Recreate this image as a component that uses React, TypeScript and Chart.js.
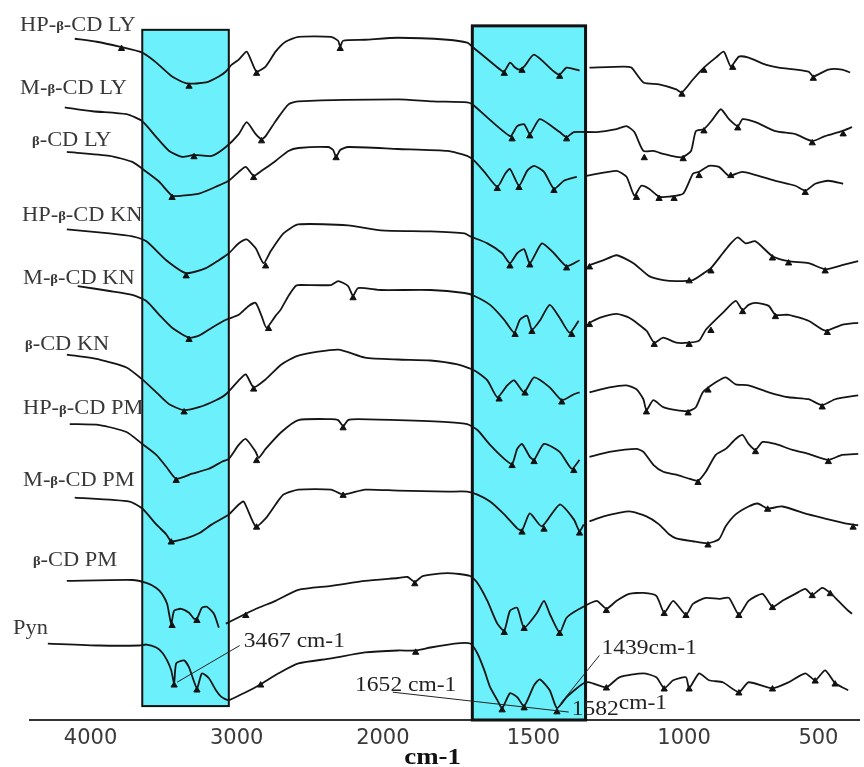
import React, { useEffect, useRef } from 'react';
import { Chart, registerables } from 'chart.js';

Chart.register(...registerables);

// ---- axis (wavenumber, cm-1) : the scan compresses the high-wavenumber part ----
const TICK_WN = [4000, 3000, 2000, 1500, 1000, 500];
const AXIS_WN = [4414, 2000, 1000, 349];
const AXIS_UNIT = [0, 355, 658, 834];

// ---- spectra: [wavenumber, transmittance level (arbitrary, stacked)] ----
const HP_B_CD_LY = [[4108,686],[3958,683],[3802,678],[3646,672],[3550,662],[3442,648],[3340,641],[3210,642],[3122,648],[3074,653],[3034,660],[2986,665],[2932,673],[2898,663],[2864,653],[2802,658],[2734,673],[2666,683],[2578,688],[2354,688],[2306,684],[2292,678],[2272,684],[2122,685],[1950,687],[1785,685],[1720,682],[1703,678],[1611,655],[1597,653],[1578,662],[1561,657],[1548,655],[1531,658],[1498,670],[1432,653],[1413,650],[1390,657],[1347,654],[1330,null],[1314,657],[1201,658],[1175,657],[1135,642],[1083,640],[1026,635],[1007,632],[967,645],[930,656],[882,667],[852,673],[826,658],[796,668],[760,667],[697,660],[648,657],[537,653],[519,648],[463,655],[412,655],[382,652]];
const M_B_CD_LY = [[4176,617],[3986,613],[3754,610],[3646,603],[3550,587],[3462,573],[3374,567],[3292,569],[3170,568],[3074,577],[2986,590],[2932,602],[2870,590],[2830,585],[2802,588],[2734,603],[2646,620],[2578,623],[1950,625],[1835,623],[1720,622],[1703,620],[1578,588],[1554,598],[1531,600],[1512,590],[1479,605],[1413,592],[1390,587],[1366,592],[1290,592],[1224,595],[1191,598],[1165,592],[1135,573],[1102,573],[1069,570],[1026,567],[1003,567],[974,573],[956,593],[926,595],[893,605],[863,615],[833,605],[800,598],[782,605],[734,602],[660,593],[586,590],[523,583],[475,588],[412,593],[375,597]];
const B_CD_LY = [[4162,572],[3870,568],[3714,562],[3618,552],[3530,542],[3442,528],[3374,528],[3258,530],[3142,537],[3054,543],[2986,552],[2938,557],[2884,548],[2830,553],[2734,563],[2646,573],[2578,576],[2374,577],[2340,574],[2320,567],[2292,574],[2238,577],[1950,575],[1785,573],[1720,568],[1696,563],[1663,552],[1620,537],[1594,550],[1578,555],[1548,538],[1521,553],[1498,558],[1465,552],[1432,535],[1399,543],[1356,547],[1340,null],[1324,548],[1224,553],[1191,547],[1165,528],[1142,538],[1116,535],[1083,527],[1050,527],[1003,530],[967,550],[944,552],[907,558],[870,557],[833,548],[782,552],[660,543],[586,538],[549,533],[512,540],[463,543],[408,540]];
const HP_B_CD_KN = [[4162,494],[3870,490],[3714,487],[3618,482],[3482,463],[3346,450],[3210,455],[3122,463],[3054,470],[2986,480],[2932,484],[2870,475],[2816,460],[2768,472],[2680,490],[2578,499],[2238,498],[2014,493],[1842,492],[1729,490],[1710,487],[1653,480],[1604,470],[1578,460],[1554,470],[1531,474],[1512,460],[1472,480],[1432,470],[1390,457],[1347,463],[1330,null],[1314,458],[1267,463],[1224,468],[1168,460],[1116,447],[1069,443],[1026,442],[967,443],[926,450],[900,455],[856,470],[826,480],[800,486],[771,480],[734,482],[671,467],[611,462],[537,460],[475,454],[412,458],[352,462]];
const M_B_CD_KN = [[4088,437],[3870,432],[3714,428],[3618,422],[3530,408],[3442,395],[3326,385],[3258,387],[3170,395],[3074,403],[2986,408],[2918,417],[2870,420],[2830,407],[2796,395],[2734,407],[2700,413],[2646,427],[2598,437],[2578,438],[2354,438],[2306,442],[2238,437],[2204,427],[2170,435],[2014,433],[1842,433],[1729,430],[1696,427],[1644,418],[1597,403],[1564,390],[1545,403],[1521,407],[1505,393],[1479,402],[1446,418],[1413,405],[1380,390],[1350,402],[1330,null],[1314,400],[1281,405],[1224,409],[1182,405],[1125,392],[1099,380],[1069,385],[1026,380],[981,380],[944,382],[919,393],[856,410],[808,422],[782,413],[760,418],[734,420],[685,417],[660,408],[611,408],[537,402],[475,392],[412,398],[352,400]];
const B_CD_KN = [[4162,368],[3938,363],[3754,355],[3646,343],[3550,330],[3462,318],[3360,312],[3258,315],[3142,322],[3074,328],[2986,342],[2938,348],[2884,335],[2802,343],[2694,358],[2578,367],[2306,373],[2122,365],[1950,363],[1842,362],[1752,358],[1696,352],[1653,342],[1620,325],[1587,337],[1564,342],[1531,330],[1498,345],[1446,335],[1406,322],[1366,328],[1347,330],[1330,null],[1314,330],[1248,335],[1191,337],[1158,333],[1135,323],[1125,312],[1102,322],[1069,315],[1026,312],[985,311],[956,315],[930,330],[882,340],[845,345],[808,338],[760,337],[685,330],[611,325],[537,323],[486,317],[438,323],[352,327]];
const HP_B_CD_PM = [[4142,298],[3938,297],[3754,290],[3646,278],[3550,267],[3482,255],[3414,243],[3306,248],[3190,253],[3102,260],[3054,263],[2986,277],[2938,283],[2870,270],[2850,264],[2802,273],[2694,290],[2578,302],[2354,303],[2306,302],[2272,296],[2238,302],[2170,303],[1950,302],[1785,300],[1720,298],[1686,292],[1644,277],[1597,263],[1571,258],[1554,273],[1538,278],[1512,265],[1498,262],[1465,278],[1413,270],[1373,253],[1347,262],[1330,null],[1314,265],[1248,270],[1158,273],[1135,270],[1102,257],[1069,250],[1026,247],[981,243],[948,241],[919,250],[882,267],[845,273],[808,283],[782,287],[760,278],[734,272],[708,280],[660,278],[597,272],[537,268],[463,262],[412,267],[352,268]];
const M_B_CD_PM = [[4108,224],[3734,220],[3646,213],[3550,197],[3482,187],[3448,180],[3346,183],[3258,188],[3170,197],[3054,207],[2986,217],[2952,220],[2870,195],[2802,203],[2734,217],[2680,227],[2578,232],[2354,232],[2272,227],[2122,232],[1950,231],[1785,230],[1720,230],[1686,227],[1644,220],[1597,207],[1554,193],[1538,191],[1512,208],[1472,195],[1413,217],[1366,202],[1347,190],[1333,197],[1325,null],[1314,200],[1267,205],[1182,210],[1125,205],[1083,197],[1050,187],[1026,183],[967,180],[911,178],[870,182],[845,195],[808,207],[760,215],[726,218],[689,213],[634,215],[537,207],[463,202],[401,198],[352,196]];
const B_CD_PM = [[4162,140],[3714,141],[3618,138],[3550,133],[3510,127],[3476,117],[3448,97],[3428,110],[3380,112],[3326,108],[3292,102],[3272,102],[3238,113],[3204,114],[3156,107],[3122,93],[3100,null],[3074,97],[3034,100],[2938,107],[2850,113],[2734,120],[2578,131],[2354,135],[2122,140],[1950,143],[1918,144],[1894,139],[1868,145],[1785,148],[1710,145],[1686,138],[1653,120],[1620,97],[1597,90],[1578,110],[1554,113],[1531,93],[1488,108],[1465,120],[1446,107],[1413,88],[1390,103],[1347,112],[1290,120],[1258,112],[1224,120],[1182,127],[1135,128],[1092,125],[1066,108],[1036,120],[993,106],[967,117],[919,123],[870,122],[833,123],[796,106],[760,120],[708,127],[671,114],[634,120],[586,127],[549,132],[523,126],[486,133],[456,128],[426,120],[389,110],[375,107]];
const PYN = [[4292,77],[3938,75],[3666,75],[3618,76],[3550,73],[3510,68],[3476,60],[3448,50],[3428,37],[3414,57],[3360,60],[3326,53],[3272,32],[3238,47],[3190,42],[3142,30],[3102,23],[3054,20],[2952,27],[2884,32],[2836,36],[2714,47],[2578,57],[2354,62],[2122,68],[1950,70],[1891,70],[1842,73],[1762,77],[1710,77],[1686,67],[1663,50],[1644,33],[1620,20],[1604,12],[1578,27],[1554,23],[1531,14],[1498,35],[1479,41],[1446,30],[1422,12],[1390,23],[1356,32],[1333,37],[1314,38],[1258,33],[1215,43],[1135,47],[1092,43],[1066,32],[1036,40],[993,43],[981,32],[944,47],[907,40],[856,38],[796,28],[760,38],[671,32],[611,38],[549,47],[512,40],[475,50],[438,37],[412,33],[389,30]];

// ---- peak-pick markers ----
const PEAKS_HP_B_CD_LY = [[3788,676],[3326,638],[2864,651],[2292,676],[1597,651],[1538,654],[1413,648],[1007,630],[926,654],[819,657],[519,646]];
const PEAKS_M_B_CD_LY = [[3292,567],[2830,583],[1571,585],[1512,588],[1390,585],[1132,566],[1003,565],[926,593],[800,596],[523,581],[408,590]];
const PEAKS_B_CD_LY = [[3442,526],[2884,546],[2320,566],[1620,535],[1548,536],[1432,533],[1158,526],[1083,525],[1033,525],[944,548],[826,548],[549,531]];
const PEAKS_HP_B_CD_KN = [[3346,447],[2802,457],[1578,457],[1512,458],[1390,455],[1314,456],[981,442],[900,452],[671,465],[611,460],[475,452]];
const PEAKS_M_B_CD_KN = [[3326,383],[2782,394],[2204,425],[1561,388],[1505,391],[1373,388],[1314,398],[1099,378],[981,378],[900,392],[782,411],[660,406],[467,390]];
const PEAKS_B_CD_KN = [[3360,310],[2884,333],[1614,323],[1528,329],[1406,320],[1125,310],[985,309],[911,332],[486,315]];
const PEAKS_HP_B_CD_PM = [[3414,241],[2864,261],[2272,294],[1571,256],[1498,260],[1366,251],[948,239],[734,270],[463,260]];
const PEAKS_M_B_CD_PM = [[3448,179],[2864,194],[2272,226],[1538,189],[1465,192],[1347,188],[911,176],[689,212],[371,194]];
const PEAKS_B_CD_PM = [[3442,95],[3272,100],[2938,105],[1894,137],[1597,88],[1531,92],[1413,87],[1258,110],[1066,107],[993,105],[796,105],[671,113],[523,125],[456,127]];
const PEAKS_PYN = [[3428,35],[3272,30],[2836,35],[1891,68],[1604,10],[1531,12],[1422,8],[1258,32],[1066,31],[981,31],[796,27],[671,31],[512,39],[438,36]];

const SPECTRA = [HP_B_CD_LY, M_B_CD_LY, B_CD_LY, HP_B_CD_KN, M_B_CD_KN, B_CD_KN, HP_B_CD_PM, M_B_CD_PM, B_CD_PM, PYN];
const PEAKS = [PEAKS_HP_B_CD_LY, PEAKS_M_B_CD_LY, PEAKS_B_CD_LY, PEAKS_HP_B_CD_KN, PEAKS_M_B_CD_KN, PEAKS_B_CD_KN, PEAKS_HP_B_CD_PM, PEAKS_M_B_CD_PM, PEAKS_B_CD_PM, PEAKS_PYN];

// ---- spectrum names, anchored at (wavenumber, level) ----
const SPECTRUM_NAMES = ['HP-β-CD LY', 'M-β-CD LY', 'β-CD LY', 'HP-β-CD KN', 'M-β-CD KN', 'β-CD KN', 'HP-β-CD PM', 'M-β-CD PM', 'β-CD PM', 'Pyn'];
const NAME_WN = [4482, 4482, 4400, 4468, 4462, 4448, 4462, 4462, 4394, 4530];
const NAME_LEVEL = [699, 636, 583, 508, 444, 378, 313, 241, 160, 92];

// ---- highlighted bands ----
const BAND_FROM_WN = [3646, 1703];
const BAND_TO_WN = [3054, 1327];
const BAND_TOP = [695, 699];
const BAND_BOTTOM = [14, 0];

// ---- annotations ----
const NOTE_TEXT = ['3467 cm-1', '1652 cm-1', '1439cm-1'];
const NOTE_WN = [2952, 2190, 1274];
const NOTE_LEVEL = [79, 35, 72];
const NOTE_LINE_FROM = [[2979, 75], [1967, 28], [1281, 65]];
const NOTE_LINE_TO = [[3408, 38], [1383, 8], [1409, 17]];
const NOTE_1582 = ['1582', 'cm-1'];
const NOTE_1582_AT = [1373, 13];
const AXIS_TITLE = 'cm-1';
const AXIS_TITLE_WN = 1835;

function axisUnit(w: number): number {
  const n = AXIS_WN.length;
  for (let i = 0; i < n - 1; i++) {
    const a = AXIS_WN[i];
    const b = AXIS_WN[i + 1];
    if (w >= b || i === n - 2) {
      return AXIS_UNIT[i] + ((a - w) / (a - b)) * (AXIS_UNIT[i + 1] - AXIS_UNIT[i]);
    }
  }
  return 0;
}

const STRETCH = 1.12;

function drawParts(ctx: CanvasRenderingContext2D, x: number, y: number, parts: { t: string; f: string; dy?: number }[]) {
  ctx.save();
  ctx.translate(x, y);
  ctx.scale(STRETCH, 1);
  let cx = 0;
  for (const p of parts) {
    ctx.font = p.f;
    ctx.fillText(p.t, cx, p.dy || 0);
    cx += ctx.measureText(p.t).width;
  }
  ctx.restore();
}

const decor = {
  id: 'decor',
  beforeDraw(chart: any) {
    const ctx = chart.ctx;
    ctx.save();
    ctx.fillStyle = '#ffffff';
    ctx.fillRect(0, 0, chart.width, chart.height);
    ctx.restore();
  },
  beforeDatasetsDraw(chart: any) {
    const ctx = chart.ctx;
    const xs = chart.scales.x;
    const ys = chart.scales.y;
    ctx.save();
    for (let i = 0; i < BAND_FROM_WN.length; i++) {
      const x1 = xs.getPixelForValue(axisUnit(BAND_FROM_WN[i]));
      const x2 = xs.getPixelForValue(axisUnit(BAND_TO_WN[i]));
      const y1 = ys.getPixelForValue(BAND_TOP[i]);
      const y2 = ys.getPixelForValue(BAND_BOTTOM[i]);
      ctx.fillStyle = '#6cf0fb';
      ctx.fillRect(x1, y1, x2 - x1, y2 - y1);
      ctx.strokeStyle = '#111';
      ctx.lineWidth = i === 0 ? 2 : 3;
      ctx.strokeRect(x1, y1, x2 - x1, y2 - y1);
    }
    ctx.restore();
  },
  afterDatasetsDraw(chart: any) {
    const ctx = chart.ctx;
    const xs = chart.scales.x;
    const ys = chart.scales.y;
    const px = (w: number) => xs.getPixelForValue(axisUnit(w));
    const py = (v: number) => ys.getPixelForValue(v);
    ctx.save();
    ctx.textBaseline = 'middle';
    ctx.textAlign = 'left';
    // spectrum names
    ctx.fillStyle = '#383838';
    SPECTRUM_NAMES.forEach((name, i) => {
      const segs = name.split('β');
      const parts: { t: string; f: string; dy?: number }[] = [];
      segs.forEach((s, k) => {
        if (k > 0) parts.push({ t: 'β', f: 'bold 13px "Liberation Serif"', dy: 1 });
        if (s) parts.push({ t: s, f: '20px "Liberation Serif"' });
      });
      drawParts(ctx, px(NAME_WN[i]), py(NAME_LEVEL[i]), parts);
    });
    // annotations
    ctx.strokeStyle = '#222';
    ctx.lineWidth = 1;
    ctx.fillStyle = '#222';
    NOTE_TEXT.forEach((t, i) => {
      ctx.beginPath();
      ctx.moveTo(px(NOTE_LINE_FROM[i][0]), py(NOTE_LINE_FROM[i][1]));
      ctx.lineTo(px(NOTE_LINE_TO[i][0]), py(NOTE_LINE_TO[i][1]));
      ctx.stroke();
      drawParts(ctx, px(NOTE_WN[i]), py(NOTE_LEVEL[i]), [{ t, f: '21px "Liberation Serif"' }]);
    });
    drawParts(ctx, px(NOTE_1582_AT[0]), py(NOTE_1582_AT[1]), [
      { t: NOTE_1582[0], f: '21px "Liberation Serif"', dy: 2 },
      { t: NOTE_1582[1], f: '21px "Liberation Serif"', dy: -4 },
    ]);
    // axis title
    ctx.fillStyle = '#111';
    ctx.font = 'bold 24px "Liberation Serif"';
    const tw = ctx.measureText(AXIS_TITLE).width * STRETCH;
    drawParts(ctx, px(AXIS_TITLE_WN) - tw / 2, chart.chartArea.bottom + 38, [{ t: AXIS_TITLE, f: 'bold 24px "Liberation Serif"' }]);
    ctx.restore();
  },
};

export default function App() {
  const ref = useRef<HTMLCanvasElement>(null);
  useEffect(() => {
    const canvas = ref.current;
    if (!canvas) return;
    const datasets: any[] = SPECTRA.map((s, i) => ({
      type: 'line',
      label: SPECTRUM_NAMES[i],
      data: s.map(([w, v]) => ({ x: axisUnit(w as number), y: v })),
      borderColor: '#151515',
      borderWidth: 1.8,
      pointRadius: 0,
      tension: 0.2,
      spanGaps: false,
      fill: false,
    }));
    datasets.push({
      type: 'line',
      label: 'peaks',
      data: PEAKS.flat().map(([w, v]) => ({ x: axisUnit(w), y: v })),
      showLine: false,
      pointStyle: 'triangle',
      pointRadius: 3.6,
      backgroundColor: '#111',
      borderColor: '#111',
      borderWidth: 1,
    });
    const chart = new Chart(canvas, {
      type: 'line',
      data: { datasets },
      options: {
        animation: false,
        responsive: false,
        devicePixelRatio: 1,
        events: [],
        layout: { padding: { left: 30, right: 0, top: 0, bottom: 0 } },
        plugins: { legend: { display: false }, tooltip: { enabled: false } },
        scales: {
          x: {
            type: 'linear',
            min: AXIS_UNIT[0],
            max: AXIS_UNIT[AXIS_UNIT.length - 1],
            grid: { display: false, drawTicks: false },
            border: { display: true, color: '#333', width: 2 },
            afterBuildTicks: (scale: any) => {
              scale.ticks = TICK_WN.map((w) => ({ value: axisUnit(w) }));
            },
            afterFit: (scale: any) => {
              scale.height = 47;
            },
            ticks: {
              autoSkip: false,
              maxRotation: 0,
              padding: 6,
              color: '#3a3a3a',
              font: { family: '"DejaVu Sans"', size: 21 },
              callback: (value: any) => {
                const w = TICK_WN.find((t) => Math.abs(axisUnit(t) - value) < 0.01);
                return w === undefined ? '' : String(w);
              },
            },
          },
          y: { type: 'linear', min: 0, max: 720, display: false },
        },
      } as any,
      plugins: [decor],
    });
    return () => chart.destroy();
  }, []);
  return (
    <div style={{ position: 'absolute', left: 0, top: 0, width: 864, height: 767, background: '#fff' }}>
      <canvas ref={ref} width={864} height={767} style={{ display: 'block', width: 864, height: 767 }} />
    </div>
  );
}
